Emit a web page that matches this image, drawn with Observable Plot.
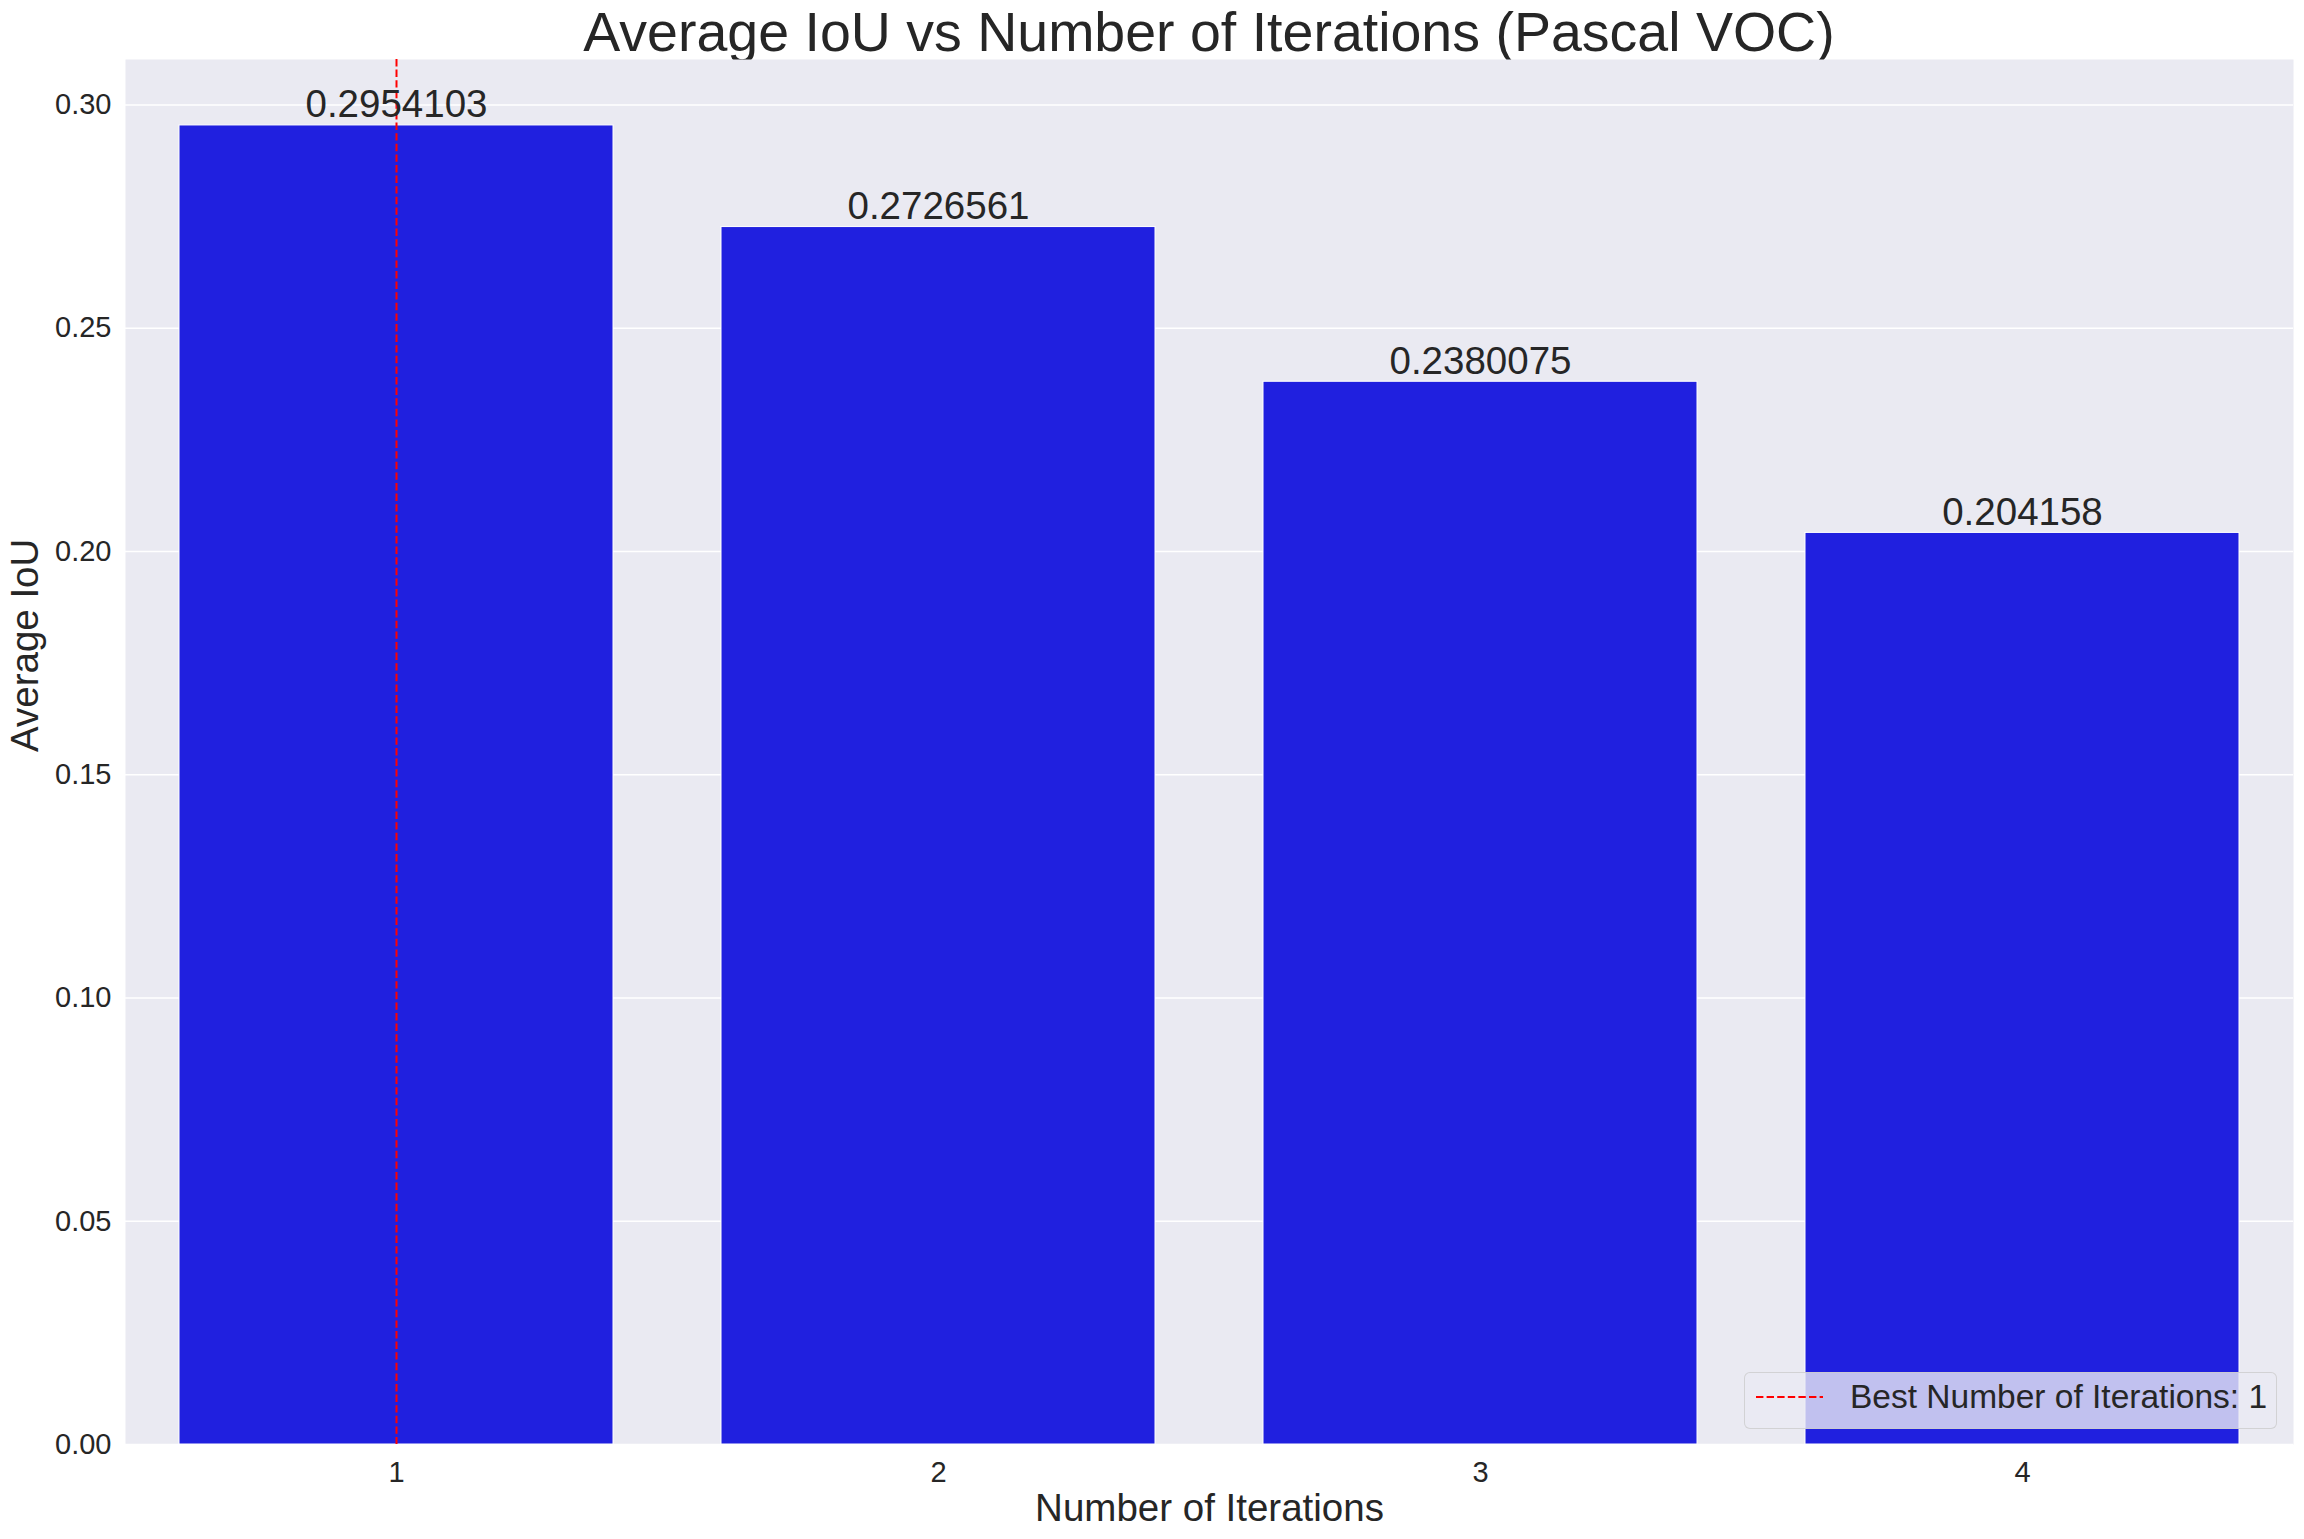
<!DOCTYPE html>
<html>
<head>
<meta charset="utf-8">
<script src="https://cdn.jsdelivr.net/npm/d3@7"></script>
<script src="https://cdn.jsdelivr.net/npm/@observablehq/plot@0.6"></script>
<style>
  html, body { margin: 0; padding: 0; background: #ffffff; }
  #fig { position: relative; width: 2304px; height: 1539px; font-family: "Liberation Sans", Arial, sans-serif; color: #262626; }
  #title { position: absolute; left: 125px; width: 2168px; top: 5px; line-height: 55px; font-size: 55.5px; text-align: center; white-space: nowrap; }
  #chart { position: absolute; left: 0; top: 59px; }
  #legend { position: absolute; left: 1744px; top: 1372px; width: 531px; height: 55px; background: rgba(234,234,242,0.8); border: 1px solid rgba(204,204,204,0.8); border-radius: 6px; }
  #legend svg { position: absolute; left: 0; top: 0; }
</style>
</head>
<body>
<div id="fig">
  <div id="title">Average IoU vs Number of Iterations (Pascal VOC)</div>
  <div id="chart"></div>
  <div id="legend">
    <svg width="531" height="55">
      <line x1="11" x2="78" y1="24" y2="24" stroke="#ff0000" stroke-width="2" stroke-dasharray="7.4,3.2"></line>
      <text x="105" y="35" font-size="33.5" fill="#262626" font-family="Liberation Sans, Arial, sans-serif">Best Number of Iterations: 1</text>
    </svg>
  </div>
</div>
<script>
const iterations = ["1", "2", "3", "4"];
const avgIoU = [0.2954103, 0.2726561, 0.2380075, 0.204158];
const yTicks = [0.00, 0.05, 0.10, 0.15, 0.20, 0.25, 0.30];
const bestIteration = ["1"];
const titleText = "Average IoU vs Number of Iterations (Pascal VOC)";
const xLabel = "Number of Iterations";
const yLabel = "Average IoU";

const data = iterations.map((it, i) => ({iteration: it, iou: avgIoU[i], label: String(avgIoU[i])}));
const yMax = d3.max(avgIoU) * 1.05;

const chart = Plot.plot({
  width: 2304,
  height: 1480,
  marginTop: 0,
  marginLeft: 125,
  marginRight: 11,
  marginBottom: 95,
  style: {fontFamily: "Liberation Sans, Arial, sans-serif", color: "#262626", background: "transparent", overflow: "visible"},
  x: {type: "band", domain: iterations, paddingInner: 0.2, paddingOuter: 0.1, label: null},
  y: {domain: [0, yMax], label: null},
  marks: [
    Plot.frame({fill: "#EAEAF2", stroke: null}),
    Plot.gridY(yTicks, {stroke: "#ffffff", strokeOpacity: 1, strokeWidth: 1.6}),
    Plot.barY(data, {x: "iteration", y: "iou", fill: "#2020DF", stroke: "#ffffff", strokeWidth: 1}),
    Plot.ruleX(bestIteration, {x: d => d, stroke: "#ff0000", strokeWidth: 2, strokeDasharray: "7.4,3.2"}),
    Plot.text(data, {x: "iteration", y: "iou", text: "label", lineAnchor: "bottom", dy: -8, fontSize: 38.5, fill: "#262626"}),
    Plot.axisY(yTicks, {tickSize: 0, tickPadding: 14, fontSize: 29, tickFormat: d3.format(".2f"), label: null}),
    Plot.axisX({tickSize: 0, tickPadding: 17, fontSize: 29, label: null}),
    Plot.text([xLabel], {frameAnchor: "bottom", dy: 76, lineAnchor: "bottom", fontSize: 38.5, fill: "#262626"}),
    Plot.text([yLabel], {frameAnchor: "left", dx: -88, rotate: -90, lineAnchor: "bottom", fontSize: 38.5, fill: "#262626"})
  ]
});
document.getElementById("chart").appendChild(chart);
</script>
</body>
</html>
